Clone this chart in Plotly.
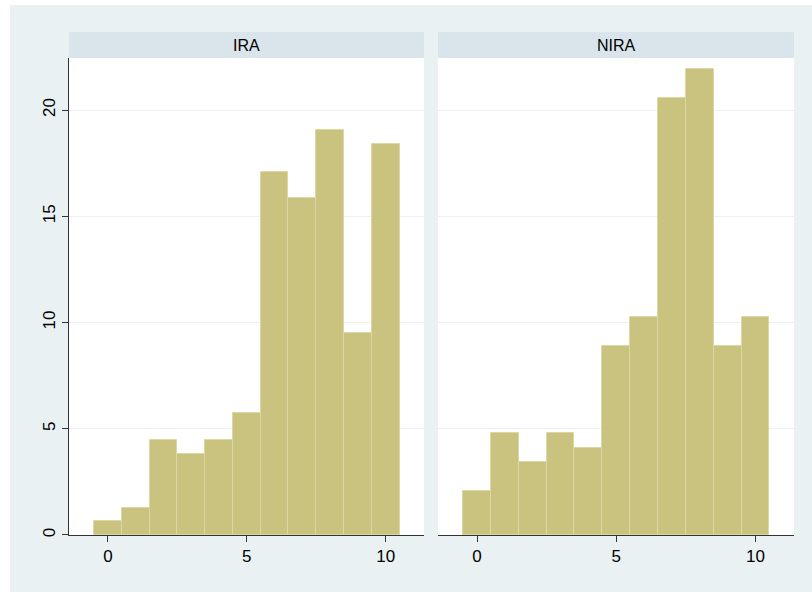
import plotly.graph_objects as go

# ── Data (percent of respondents by score) ────────────────────────────────────
SCORES = [0, 1, 2, 3, 4, 5, 6, 7, 8, 9, 10]
IRA_PCT = [0.64, 1.27, 4.46, 3.82, 4.46, 5.73, 17.1, 15.85, 19.05, 9.52, 18.4]
NIRA_PCT = [2.07, 4.79, 3.42, 4.79, 4.11, 8.9, 10.27, 20.55, 21.92, 8.9, 10.27]
PANELS = ["IRA", "NIRA"]
Y_TICKS = [0, 5, 10, 15, 20]
X_TICKS = [0, 5, 10]

# ── Stata-ish colors ─────────────────────────────────────────────────────────
OUTER_BG = "#EAF1F3"
STRIP_BG = "#D9E5EB"
BAR_FILL = "#C9C37F"
BAR_EDGE = "#DCD8A6"
GRID = "#EAF1F3"
AXIS = "#333333"
FONT = "Liberation Sans, Arial, sans-serif"

W, H = 812, 592
M = dict(l=69, r=18, t=32, b=57)
left_dom = [0, 0.4897]
right_dom = [0.509, 1]
y_top = 0.9483

fig = go.Figure()
for i, vals in enumerate([IRA_PCT, NIRA_PCT]):
    fig.add_trace(go.Bar(
        x=SCORES, y=vals, width=1,
        marker=dict(color=BAR_FILL, line=dict(color=BAR_EDGE, width=1)),
        xaxis="x" if i == 0 else "x2", yaxis="y" if i == 0 else "y2",
        showlegend=False,
    ))

xax = dict(range=[-1.4, 11.38], tickvals=X_TICKS, ticks="outside", ticklen=6,
           tickcolor=AXIS, showline=True, linecolor=AXIS, linewidth=1,
           showgrid=False, zeroline=False, tickfont=dict(size=17, color="black"))
yax = dict(range=[0, 22.45], tickvals=Y_TICKS, showgrid=True, gridcolor=GRID,
           gridwidth=1, zeroline=False, domain=[0, y_top])

fig.update_layout(
    width=W, height=H, margin=M,
    paper_bgcolor="white", plot_bgcolor="white",
    font=dict(family=FONT, color="black"),
    bargap=0,
    xaxis=dict(domain=left_dom, anchor="y", **xax),
    xaxis2=dict(domain=right_dom, anchor="y2", **xax),
    yaxis=dict(anchor="x", ticks="outside", ticklen=6, tickcolor=AXIS,
               showline=True, linecolor=AXIS, linewidth=1, tickangle=-90,
               tickfont=dict(size=17, color="black"), **yax),
    yaxis2=dict(anchor="x2", matches="y", showticklabels=False,
                showline=False, ticks="", **yax),
)

# outer grey-blue background (leaves a thin white edge top/left)
pw = W - M["l"] - M["r"]
ph = H - M["t"] - M["b"]
fig.add_shape(type="rect", xref="paper", yref="paper", layer="below",
              x0=(10 - M["l"]) / pw, x1=(W - M["l"]) / pw,
              y0=-M["b"] / ph, y1=1 + (M["t"] - 5) / ph,
              fillcolor=OUTER_BG, line=dict(width=0))

# white panels and header strips
for dom in (left_dom, right_dom):
    fig.add_shape(type="rect", xref="paper", yref="paper", layer="below",
                  x0=dom[0], x1=dom[1], y0=0, y1=y_top,
                  fillcolor="white", line=dict(width=0))
    fig.add_shape(type="rect", xref="paper", yref="paper", layer="below",
                  x0=dom[0], x1=dom[1], y0=y_top, y1=1,
                  fillcolor=STRIP_BG, line=dict(width=0))

for name, dom in zip(PANELS, (left_dom, right_dom)):
    fig.add_annotation(text=name, xref="paper", yref="paper",
                       x=(dom[0] + dom[1]) / 2, y=(y_top + 1) / 2,
                       showarrow=False, font=dict(size=16, color="black"),
                       xanchor="center", yanchor="middle")

# page body has a default 8px margin; drop it so the figure sits at 0,0
fig.write_html("out.html", config={"displayModeBar": False},
               post_script="document.body.style.margin='0px';")
